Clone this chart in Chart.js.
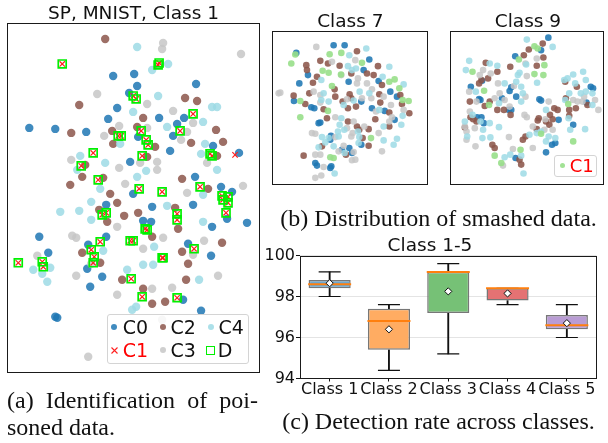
<!DOCTYPE html>
<html><head><meta charset="utf-8">
<script src="https://cdn.jsdelivr.net/npm/chart.js@4.4.1/dist/chart.umd.min.js"></script>
<style>
html,body{margin:0;padding:0;background:#fff;}
#root{position:relative;width:608px;height:443px;overflow:hidden;background:#fff;}
canvas{position:absolute;}
.cap{position:absolute;font-family:'Liberation Serif','Times New Roman',serif;font-size:24px;line-height:27px;color:#111;white-space:nowrap;}
.leg{position:absolute;background:rgba(255,255,255,0.82);border:1px solid #d4d4d4;border-radius:3px;box-sizing:border-box;}
.lt{position:absolute;font-family:'DejaVu Sans',sans-serif;white-space:nowrap;}
.mk{position:absolute;box-sizing:border-box;}
.mk svg{display:block;}
</style></head>
<body><div id="root">
<canvas id="ca" width="268" height="380" style="left:0;top:0"></canvas>
<canvas id="c7" width="176" height="190" style="left:262px;top:0"></canvas>
<canvas id="c9" width="168" height="190" style="left:440px;top:0"></canvas>
<canvas id="cc" width="370" height="172" style="left:250px;top:232px"></canvas>
<div class="cap" style="left:7px;top:386.7px;width:251px;text-align:justify;text-align-last:justify;">(a) Identification of poi-</div>
<div class="cap" style="left:7px;top:414px;">soned data.</div>
<div class="cap" style="left:269px;top:205px;width:339px;text-align:center;">(b) Distribution of smashed data.</div>
<div class="cap" style="left:269px;top:408.4px;width:339px;text-align:center;">(c) Detection rate across classes.</div>
</div>
<script>
// ---------- colours ----------
const COL_C0 = 'rgba(31,119,180,0.85)';
const COL_C2 = 'rgba(140,86,75,0.85)';
const COL_C3 = 'rgba(199,199,199,0.85)';
const COL_C4 = 'rgba(158,218,229,0.85)';

// ---------- (a) SP, MNIST, Class 1 : embedding coordinates ----------
const a_c0 = [[113,76],[134,74],[137,86],[196,84],[129,93],[117,108],[108,119],[159,118],[184,118],[177,124],[29,128],[55,129],[86,132],[138,137],[173,136],[170,151],[213,146],[239,153],[130,162],[195,177],[133,194],[221,187],[232,192],[227,219],[247,223],[106,205],[152,207],[193,205],[143,221],[151,222],[212,227],[39,237],[106,237],[88,245],[188,244],[211,256],[48,253],[87,269],[102,277],[90,287],[183,300],[201,311],[55,317],[57,318]];
const a_c2 = [[105,39],[79,105],[185,98],[197,101],[143,118],[71,133],[112,131],[137,127],[216,130],[191,143],[223,142],[113,144],[155,147],[217,156],[147,157],[85,165],[182,179],[103,178],[82,177],[70,185],[110,194],[208,189],[117,203],[99,210],[107,222],[124,216],[138,213],[175,208],[152,237],[178,229],[222,243],[182,252],[82,253],[100,263],[188,264],[122,280],[186,280],[143,289],[152,304],[165,302]];
const a_c3 = [[163,43],[162,49],[241,54],[97,94],[147,104],[173,111],[193,123],[119,126],[104,136],[147,128],[181,140],[187,132],[207,163],[140,163],[157,162],[157,170],[119,168],[71,160],[125,184],[187,193],[243,186],[117,227],[72,236],[76,238],[163,238],[204,241],[143,249],[193,255],[37,256],[91,264],[76,276],[218,276],[152,289],[172,288],[117,295],[162,320],[88,357]];
const a_c4 = [[137,47],[152,70],[168,64],[158,96],[133,112],[212,107],[217,107],[203,122],[120,144],[167,127],[205,144],[201,154],[217,170],[146,171],[105,163],[80,156],[77,170],[137,177],[100,189],[203,195],[91,202],[60,212],[79,211],[91,220],[167,206],[203,222],[103,251],[154,247],[143,265],[153,265],[33,270],[50,268],[47,282],[42,274],[127,270],[199,280],[136,307],[132,310]];
const a_detected = [[62,64],[159,63],[158,65],[133,96],[136,99],[193,114],[118,136],[121,136],[141,131],[180,131],[146,140],[148,145],[210,154],[212,156],[142,156],[93,153],[81,166],[98,180],[139,189],[162,192],[200,187],[222,196],[223,200],[228,197],[228,203],[226,213],[102,215],[106,213],[177,214],[177,220],[145,229],[147,230],[100,242],[130,241],[133,241],[91,250],[194,249],[94,257],[93,263],[163,258],[162,258],[18,263],[42,262],[43,267],[131,279],[142,297],[177,298]];
const a_c1_missed = [[235,155]];
const a_c1 = a_detected.concat(a_c1_missed);

// ---------- (b) Class 7 ----------
const b7_c0 = [[221,135],[254,135],[109,158],[328,178],[144,225],[118,250],[311,210],[266,245],[356,243],[391,275],[102,303],[154,322],[163,325],[304,305],[336,325],[374,333],[411,290],[176,370],[181,368],[404,360],[213,408],[211,420],[304,435],[246,450],[268,445],[276,460],[166,490],[171,498],[211,505],[214,500]];
const b7_c1 = [[106,163],[209,162],[244,158],[306,188],[94,190],[188,212],[206,218],[243,223],[388,245],[404,238],[418,265],[216,258],[121,303],[204,333],[446,303],[428,300],[121,352],[333,415],[221,475],[211,473]];
const b7_c2 = [[291,153],[139,195],[181,182],[204,190],[239,197],[354,198],[141,210],[171,230],[159,248],[274,220],[321,220],[341,225],[366,255],[101,287],[136,312],[148,280],[224,268],[226,290],[191,328],[248,305],[269,283],[274,295],[288,320],[264,325],[358,283],[361,308],[421,285],[426,312],[448,340],[388,338],[201,355],[264,365],[291,380],[298,390],[326,388],[346,358],[388,380],[186,440],[308,415],[326,438],[258,465],[131,468]];
const b7_c3 = [[169,140],[286,180],[216,185],[244,225],[294,235],[291,250],[321,250],[336,268],[61,278],[56,280],[161,275],[181,285],[181,308],[261,298],[306,295],[334,295],[371,290],[348,335],[393,315],[431,330],[396,352],[226,352],[281,365],[313,380],[261,385],[388,365],[156,400],[166,402],[226,412],[278,400],[274,410],[356,400],[251,438],[236,455],[281,457],[166,465],[181,465],[286,480],[276,482],[366,455],[191,502],[166,535],[184,528]];
const b7_c4 = [[319,145],[268,165],[264,198],[288,205],[388,200],[184,240],[276,210],[368,230],[431,253],[191,280],[206,305],[184,300],[251,315],[299,275],[281,302],[328,280],[358,330],[428,348],[244,355],[239,375],[253,390],[234,395],[371,380],[424,375],[186,412],[206,415],[236,410],[196,428],[176,443],[221,440],[294,395],[298,412],[296,430],[371,422],[401,435],[411,417],[254,460],[224,522]];

// ---------- (b) Class 9 ----------
const b9_c0 = [[867,112],[845,150],[767,168],[633,260],[667,242],[750,273],[755,262],[995,260],[1002,265],[658,297],[662,300],[727,295],[770,290],[840,298],[845,302],[982,308],[748,330],[755,330],[898,360],[942,375],[652,352],[665,352],[672,370],[878,435],[888,430],[860,458],[768,475]];
const b9_c1 = [[825,138],[835,145],[778,178],[855,195],[638,215],[825,222],[852,225],[673,272],[927,312],[688,315],[845,402],[783,450],[705,468],[725,490],[942,425]];
const b9_c2 = [[850,130],[808,148],[793,165],[852,172],[678,188],[752,200],[832,197],[713,215],[918,245],[658,250],[665,240],[685,235],[953,260],[630,305],[885,325],[895,330],[872,345],[920,295],[930,330],[950,325],[985,315],[690,305],[675,318],[713,330],[733,330],[753,345],[838,355],[835,362],[860,365],[880,358],[930,348],[632,352],[640,358],[650,365],[615,383],[698,435],[705,445],[798,410],[790,420],[832,388],[870,375],[780,480],[785,495]];
const b9_c3 = [[832,175],[798,190],[670,210],[693,220],[802,228],[660,225],[715,250],[763,258],[975,290],[1008,300],[1018,330],[720,280],[628,275],[650,305],[705,295],[735,300],[798,290],[868,305],[942,300],[955,305],[970,305],[750,320],[795,345],[802,352],[858,358],[630,335],[645,385],[615,380],[620,395],[620,420],[748,412],[647,440],[820,380],[855,390],[880,390],[820,445],[760,448],[730,498]];
const b9_c4 = [[802,118],[880,140],[628,182],[690,190],[713,197],[800,193],[618,210],[780,218],[775,225],[972,215],[942,223],[915,240],[925,235],[735,250],[770,245],[785,260],[833,248],[948,250],[980,240],[965,280],[980,275],[1000,280],[930,280],[648,275],[790,280],[785,305],[860,330],[918,300],[1000,315],[718,310],[928,355],[933,390],[978,388],[638,345],[662,365],[615,365],[622,410],[670,390],[668,415],[690,370],[718,382],[692,413],[810,405],[832,400],[845,395],[868,410],[888,415],[860,425],[785,468],[752,465],[735,473],[792,522]];

// ---------- (c) Detection rate, Class 1-5 ----------
const classes = ['Class 1','Class 2','Class 3','Class 4','Class 5'];
const whiskerLow  = [98.0, 94.4, 95.2, 97.6, 96.0];
const quart1      = [98.4, 95.4, 97.2, 97.8, 96.4];
const medians     = [98.6, 96.8, 99.2, 98.4, 96.6];
const quart3      = [98.8, 97.4, 99.2, 98.4, 97.1];
const whiskerHigh = [99.2, 97.6, 99.6, 98.4, 97.6];
const means       = [98.65, 96.4, 98.25, 98.15, 96.7];
const yTicks      = [94, 96, 98, 100];
const boxColors   = ['#6da7ce','#ffac62','#76c176','#e47273','#b99cd4'];

// ---------- helpers ----------
Chart.defaults.font.family = "'DejaVu Sans', sans-serif";
Chart.defaults.color = '#111';
const pts = arr => arr.map(([x, y]) => ({x, y}));

const framePlugin = {
  id: 'frame',
  afterDatasetsDraw(chart) {
    const a = chart.chartArea, ctx = chart.ctx;
    const l = Math.round(a.left), t = Math.round(a.top), r = Math.round(a.right), b = Math.round(a.bottom);
    ctx.save();
    ctx.strokeStyle = '#1a1a1a';
    ctx.lineWidth = 1;
    ctx.strokeRect(l + 0.5, t + 0.5, r - l - 1, b - t - 1);
    ctx.restore();
  }
};

function dotSet(label, data, color, r, order) {
  return {label, data: pts(data), pointRadius: r, pointBackgroundColor: color,
          pointBorderWidth: 0, pointStyle: 'circle', order};
}

function makeScatter(id, title, titlePadTop, pad, xr, yr, datasets) {
  return new Chart(document.getElementById(id), {
    type: 'scatter',
    data: {datasets},
    options: {
      responsive: false, animation: false, devicePixelRatio: 1,
      layout: {padding: pad},
      plugins: {
        legend: {display: false}, tooltip: {enabled: false},
        title: {display: true, text: title, color: '#111',
                font: {size: 18.5, weight: 'normal', lineHeight: 1},
                padding: {top: titlePadTop, bottom: 0}}
      },
      scales: {
        x: {type: 'linear', display: false, min: xr[0], max: xr[1]},
        y: {type: 'linear', display: false, min: yr[0], max: yr[1], reverse: true}
      }
    },
    plugins: [framePlugin]
  });
}

// (a)
makeScatter('ca', 'SP, MNIST, Class 1', 4.5, {left: 7, right: 8, top: 0, bottom: 7}, [7, 260], [23, 373], [
  {label: 'D', data: pts(a_detected), pointStyle: 'rect', pointRadius: 5.6, pointBackgroundColor: 'rgba(0,0,0,0)',
   pointBorderColor: '#00f000', pointBorderWidth: 1.7, order: 0},
  {label: 'C1', data: pts(a_c1), pointStyle: 'crossRot', pointRadius: 3.8, pointBorderColor: '#ff2020',
   pointBorderWidth: 1.2, order: 1},
  dotSet('C4', a_c4, COL_C4, 4.2, 2),
  dotSet('C3', a_c3, COL_C3, 4.2, 3),
  dotSet('C2', a_c2, COL_C2, 4.2, 4),
  dotSet('C0', a_c0, COL_C0, 4.2, 5)
]);

// (b) Class 7
const B_C1 = 'rgba(152,223,138,0.9)', B_C4 = 'rgba(158,218,229,0.85)', B_C3 = 'rgba(199,199,199,0.85)',
      B_C2 = 'rgba(140,86,75,0.88)', B_C0 = 'rgba(31,119,180,0.88)';
makeScatter('c7', 'Class 7', 12.5, {left: 10.3, right: 9.7, top: 0, bottom: 5.5}, [37, 505], [92, 555], [
  dotSet('C1', b7_c1, B_C1, 3.3, 1),
  dotSet('C4', b7_c4, B_C4, 3.3, 2),
  dotSet('C3', b7_c3, B_C3, 3.3, 3),
  dotSet('C2', b7_c2, B_C2, 3.3, 4),
  dotSet('C0', b7_c0, B_C0, 3.3, 5)
]);

// (b) Class 9
makeScatter('c9', 'Class 9', 12.5, {left: 10.3, right: 2.5, top: 0, bottom: 5.5}, [571, 1035], [92, 555], [
  dotSet('C1', b9_c1, B_C1, 3.3, 1),
  dotSet('C4', b9_c4, B_C4, 3.3, 2),
  dotSet('C3', b9_c3, B_C3, 3.3, 3),
  dotSet('C2', b9_c2, B_C2, 3.3, 4),
  dotSet('C0', b9_c0, B_C0, 3.3, 5)
]);

// (c) box plot
new Chart(document.getElementById('cc'), {
  type: 'bar',
  data: {
    labels: classes,
    datasets: [
      {type: 'line', label: 'mean', data: means, showLine: false, pointStyle: 'rectRot', pointRadius: 3.6,
       pointBackgroundColor: '#fff', pointBorderColor: '#111', pointBorderWidth: 1, order: 0},
      {type: 'line', label: 'median', data: medians, showLine: false, pointStyle: 'line', pointRadius: 21.5,
       pointBorderColor: '#ff7f0e', pointBorderWidth: 2, order: 1},
      {type: 'bar', label: 'IQR', data: quart1.map((v, i) => [v, quart3[i]]), backgroundColor: boxColors,
       borderColor: '#777', borderWidth: 1.5, borderSkipped: false, barPercentage: 0.71, categoryPercentage: 1,
       grouped: false, order: 2},
      {type: 'line', label: 'low cap', data: whiskerLow, showLine: false, pointStyle: 'line', pointRadius: 11,
       pointBorderColor: '#111', pointBorderWidth: 1.2, order: 3},
      {type: 'line', label: 'high cap', data: whiskerHigh, showLine: false, pointStyle: 'line', pointRadius: 11,
       pointBorderColor: '#111', pointBorderWidth: 1.2, order: 3},
      {type: 'bar', label: 'low whisker', data: whiskerLow.map((v, i) => [v, quart1[i]]), backgroundColor: '#111',
       barThickness: 1.2, grouped: false, order: 4},
      {type: 'bar', label: 'high whisker', data: quart3.map((v, i) => [v, whiskerHigh[i]]), backgroundColor: '#111',
       barThickness: 1.2, grouped: false, order: 4}
    ]
  },
  options: {
    responsive: false, animation: false, devicePixelRatio: 1,
    layout: {padding: {left: 0, right: 10, top: 0, bottom: 0}},
    plugins: {
      legend: {display: false}, tooltip: {enabled: false},
      title: {display: true, text: 'Class 1-5', color: '#111', font: {size: 18.5, weight: 'normal', lineHeight: 1},
              padding: {top: 4, bottom: 0}}
    },
    scales: {
      x: {
        offset: true,
        grid: {display: true, drawOnChartArea: false, offset: false, tickLength: 3, tickColor: '#111', tickWidth: 1},
        border: {display: false},
        ticks: {font: {size: 16, lineHeight: 1}, color: '#111', padding: 0, maxRotation: 0, autoSkip: false},
        afterFit(s) { s.height = 25.5; }
      },
      y: {
        min: yTicks[0], max: yTicks[yTicks.length - 1],
        ticks: {stepSize: yTicks[1] - yTicks[0], font: {size: 16}, color: '#111', padding: 1},
        grid: {color: '#e4e4e4', tickLength: 4, tickColor: '#111', lineWidth: 1},
        border: {display: false},
        afterFit(s) { s.width = 50; }
      }
    }
  },
  plugins: [framePlugin]
});

// ---------- legends (HTML text) ----------
const root = document.getElementById('root');
function el(cls, style, text) {
  const d = document.createElement('div');
  d.className = cls; d.setAttribute('style', style);
  if (text) d.textContent = text;
  root.appendChild(d); return d;
}
const legendA = [
  {label: 'C0', marker: 'dot', color: COL_C0, text: '#111'},
  {label: 'C1', marker: 'x', color: '#ff2020', text: '#ff0000'},
  {label: 'C2', marker: 'dot', color: COL_C2, text: '#111'},
  {label: 'C3', marker: 'dot', color: COL_C3, text: '#111'},
  {label: 'C4', marker: 'dot', color: COL_C4, text: '#111'},
  {label: 'D', marker: 'square', color: '#00f000', text: '#111'}
];
el('leg', 'left:107px;top:314px;width:142px;height:49.5px');
legendA.forEach((it, i) => {
  const col = Math.floor(i / 2), row = i % 2;
  const mx = 114.3 + col * 48.2, my = 326.7 + row * 23.3;
  if (it.marker === 'dot') {
    el('mk', `left:${mx - 3}px;top:${my - 3}px;width:6px;height:6px;border-radius:50%;background:${it.color}`);
  } else if (it.marker === 'square') {
    el('mk', `left:${mx - 4.5}px;top:${my - 4.5}px;width:9px;height:9px;border:1.5px solid ${it.color}`);
  } else {
    const m = el('mk', `left:${mx - 3.5}px;top:${my - 3.5}px;width:7px;height:7px`);
    m.innerHTML = `<svg width="7" height="7"><path d="M0.5 0.5L6.5 6.5M6.5 0.5L0.5 6.5" stroke="${it.color}" stroke-width="1.1"/></svg>`;
  }
  const tx = it.label === 'D' ? 217.8 : 122.8 + col * 47.8;
  el('lt', `left:${tx}px;top:${my - 9.2}px;font-size:19px;line-height:19px;color:${it.text}`, it.label);
});

// class 9 legend
const legendB = [{label: 'C1', color: 'rgba(152,223,138,0.9)', text: '#ff0000'}];
el('leg', 'left:554px;top:155px;width:43px;height:22px');
legendB.forEach(it => {
  el('mk', `left:${562.3 - 2.7}px;top:${165.7 - 2.7}px;width:5.4px;height:5.4px;border-radius:50%;background:${it.color}`);
  el('lt', `left:569.8px;top:${165.7 - 8.7}px;font-size:18px;line-height:18px;color:${it.text}`, it.label);
});
</script>
</body></html>
